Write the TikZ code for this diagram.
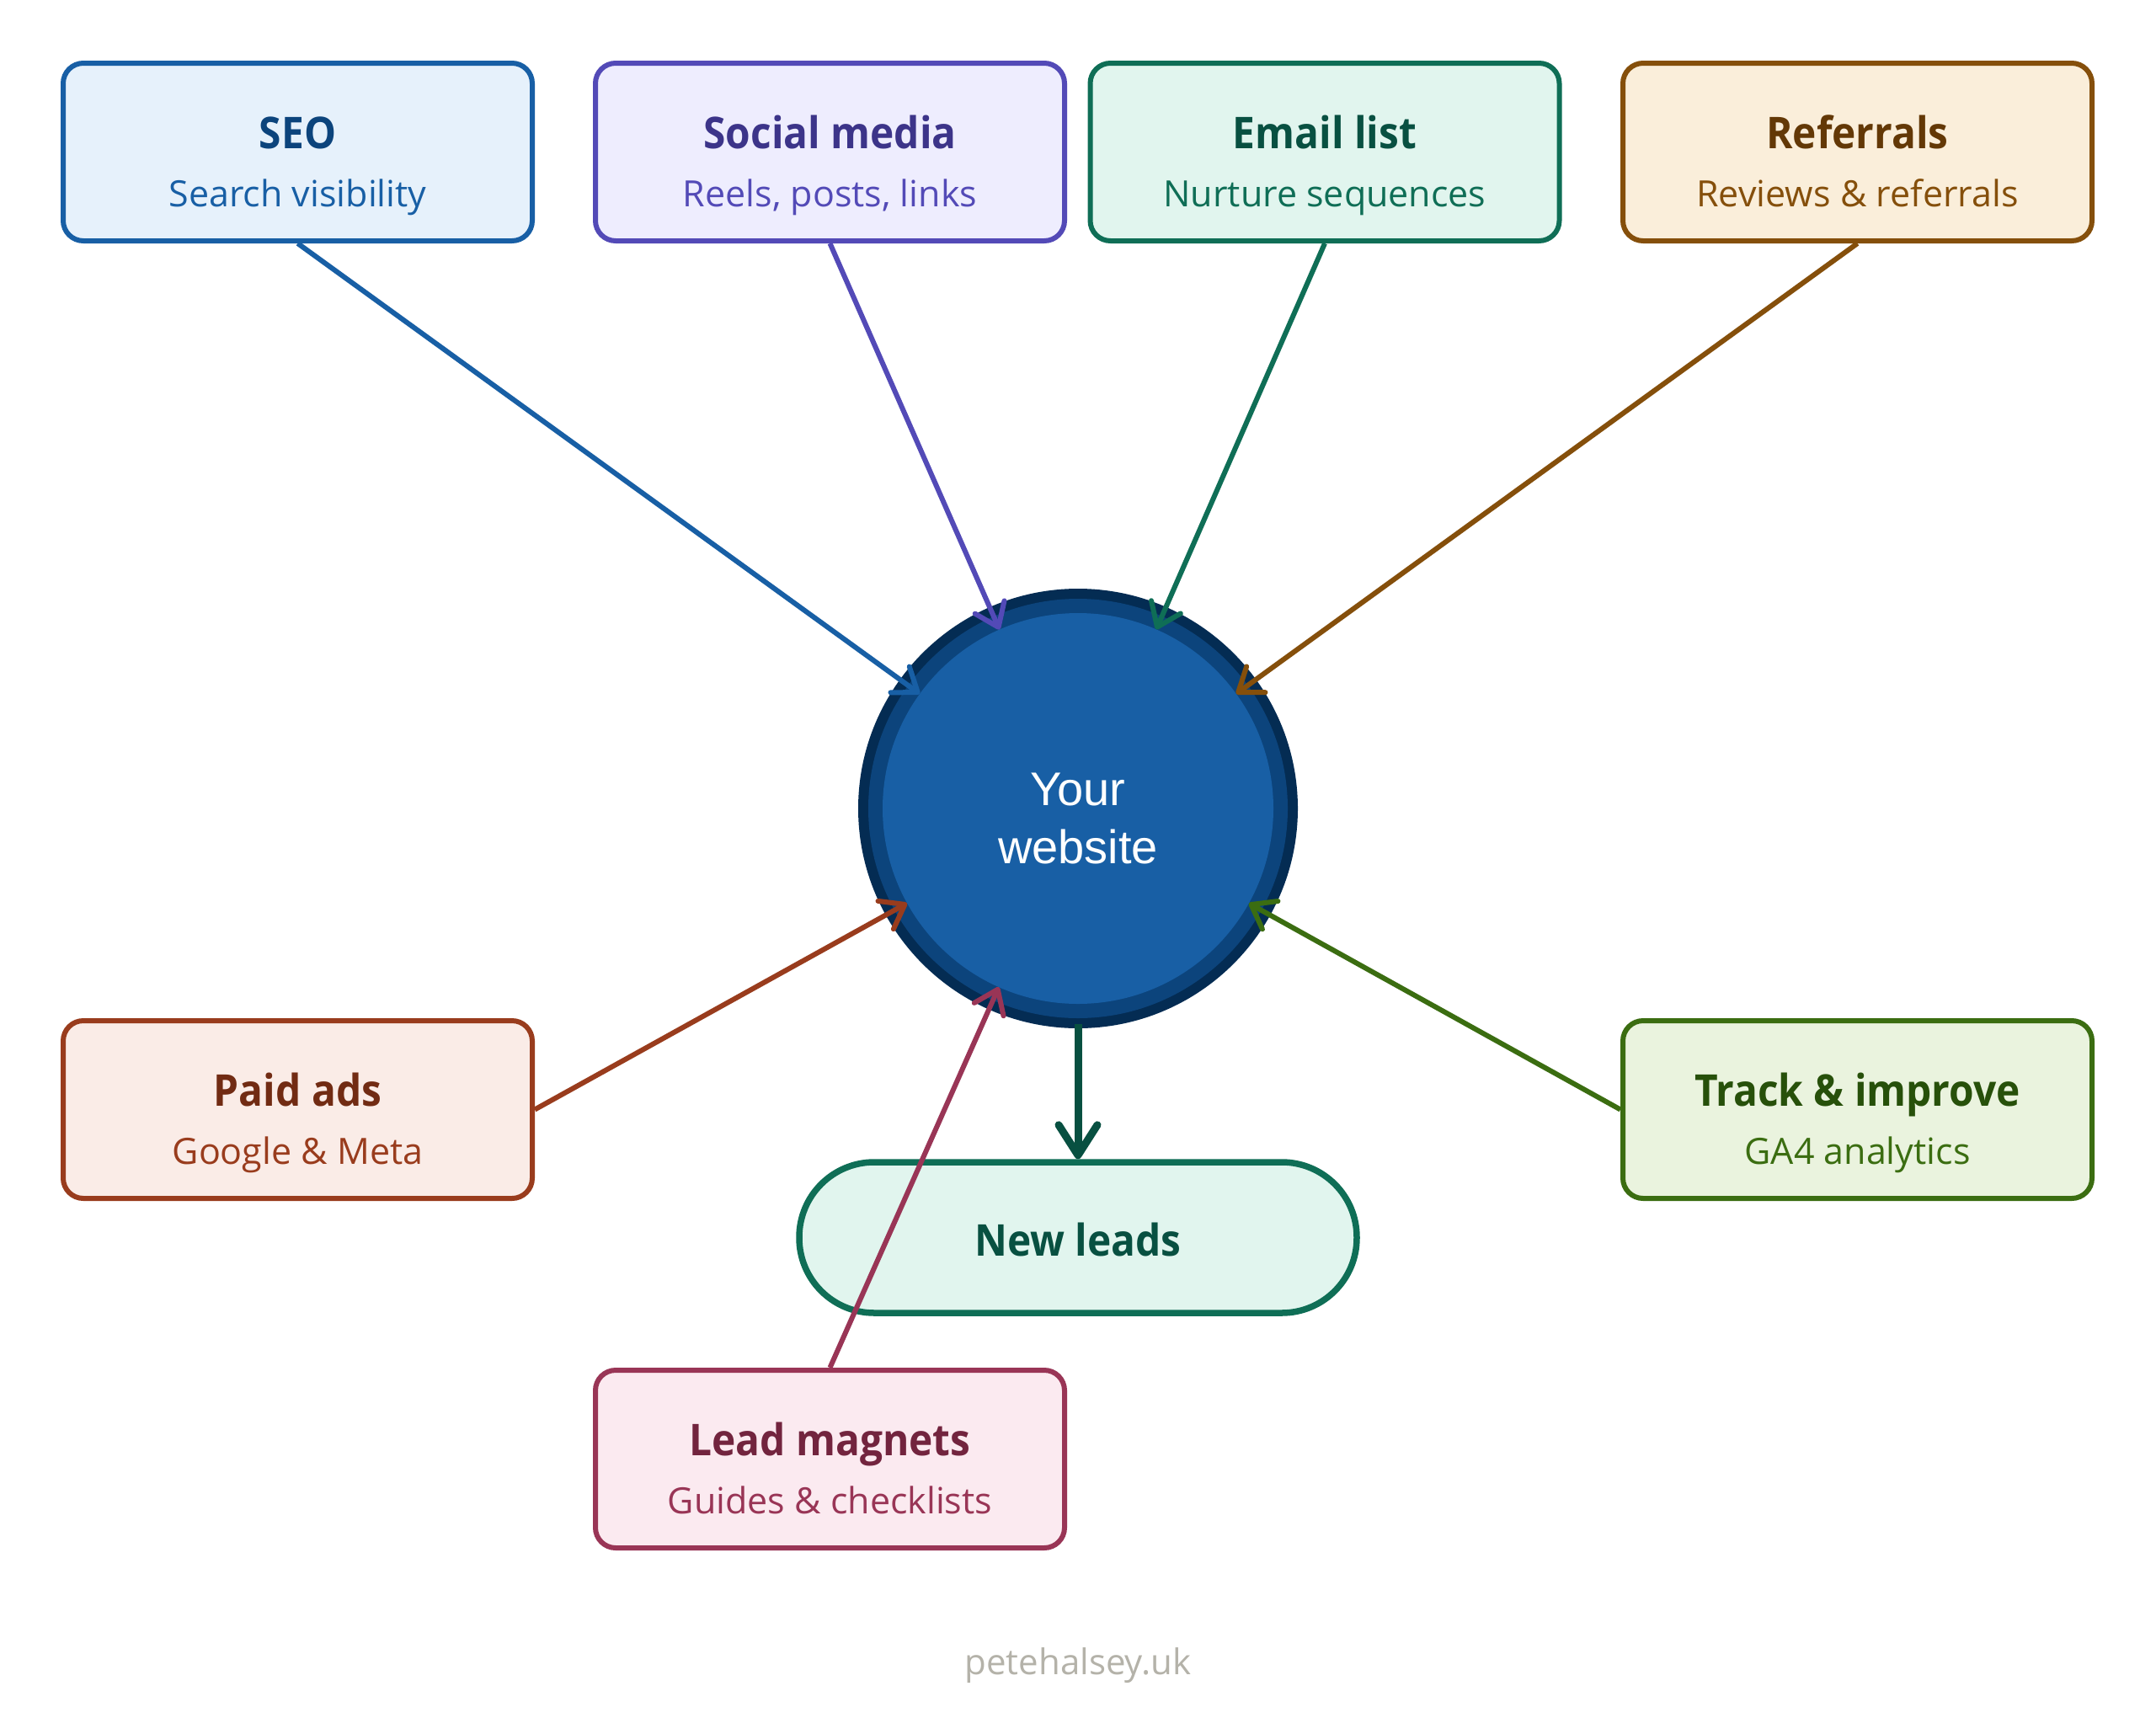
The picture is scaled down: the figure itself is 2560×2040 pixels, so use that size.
\documentclass[tikz,border=0pt]{standalone}
\usepackage{fontspec}
\setmainfont{Open Sans}
\newfontfamily\ttlfam{Open Sans}[FakeStretch=0.92]
\newfontfamily\arialf{Liberation Sans}
\usetikzlibrary{arrows.meta}
\definecolor{blueL}{HTML}{E6F1FB}\definecolor{blueM}{HTML}{185FA5}\definecolor{blueD}{HTML}{0C447C}\definecolor{blueX}{HTML}{042C53}
\definecolor{purL}{HTML}{EEEDFE}\definecolor{purM}{HTML}{534AB7}\definecolor{purD}{HTML}{3C3489}
\definecolor{tealL}{HTML}{E1F5EE}\definecolor{tealM}{HTML}{0F6E56}\definecolor{tealD}{HTML}{085041}
\definecolor{ambL}{HTML}{FAEEDA}\definecolor{ambM}{HTML}{854F0B}\definecolor{ambD}{HTML}{633806}
\definecolor{corL}{HTML}{FAECE7}\definecolor{corM}{HTML}{993C1D}\definecolor{corD}{HTML}{712B13}
\definecolor{grnL}{HTML}{EAF3DE}\definecolor{grnM}{HTML}{3B6D11}\definecolor{grnD}{HTML}{27500A}
\definecolor{pnkL}{HTML}{FBEAF0}\definecolor{pnkM}{HTML}{993556}\definecolor{pnkD}{HTML}{72243E}
\definecolor{foot}{HTML}{B4B2A9}
\newcommand\ttlfont{\ttlfam\fontsize{52}{60}\bfseries\selectfont}
\newcommand\subfont{\fontsize{43}{50}\selectfont}
% name, x, y, colour prefix, title, subtitle
\newcommand\srcbox[6]{%
  \node[srcbox, draw=#4M, fill=#4L] (#1) at (#2,#3) {};
  \node[anchor=base, text=#4D, font=\ttlfont] (#1t) at ([yshift=4.5pt]#1.center) {#5};
  \node[anchor=base, text=#4M, font=\subfont] (#1s) at ([yshift=-64.5pt]#1.center) {#6};
}
\begin{document}
\begin{tikzpicture}[x=1pt,y=-1pt,
  srcbox/.style={rectangle, rounded corners=24pt, line width=6pt, minimum width=557pt, minimum height=211pt, inner sep=0pt},
  arr/.style={line width=6pt, -{Straight Barb[length=26pt,width=38pt,round]}},
  downarr/.style={line width=9pt, draw=tealD, -{Straight Barb[length=36pt,width=46pt,round]}, shorten <=24pt}
]
\fill[white] (0,0) rectangle (2560,2040);
\useasboundingbox (0,0) rectangle (2560,2040);

% new leads
\node[rectangle, rounded corners=89pt, line width=7.5pt, draw=tealM, fill=tealL, minimum width=662pt, minimum height=179pt, inner sep=0pt] (leads) at (1280,1469.5) {};
\node[anchor=base, text=tealD, font=\ttlfont] (leadst) at ([yshift=-21.5pt]leads.center) {New leads};

% website circle
\node[circle, minimum size=464pt, inner sep=0pt, outer sep=0pt, fill=blueM,
  preaction={draw=blueX, line width=58pt},
  preaction={draw=blueD, line width=34pt}] (web) at (1280,960) {};
\node[anchor=base, text=white, font=\arialf\fontsize{56}{60}\selectfont] (webt1) at ([yshift=4pt]web.center) {Your};
\node[anchor=base, text=white, font=\arialf\fontsize{56}{60}\selectfont] (webt2) at ([yshift=-65pt]web.center) {website};

\draw[downarr] (web.south) -- (leads.north);

% source boxes
\srcbox{seo}{353.5}{180.5}{blue}{SEO}{Search visibility}
\srcbox{soc}{985.5}{180.5}{pur}{Social media}{Reels, posts, links}
\srcbox{mail}{1573}{180.5}{teal}{Email list}{Nurture sequences}
\srcbox{ref}{2205.5}{180.5}{amb}{Referrals}{Reviews \& referrals}
\srcbox{paid}{353.5}{1317.5}{cor}{Paid ads}{Google \& Meta}
\srcbox{track}{2205.5}{1317.5}{grn}{Track \& improve}{GA4 analytics}
\srcbox{lead}{985.5}{1732.5}{pnk}{Lead magnets}{Guides \& checklists}

\draw[arr, blueM] (seo.south) -- (web);
\draw[arr, purM] (soc.south) -- (web);
\draw[arr, tealM] (mail.south) -- (web);
\draw[arr, ambM] (ref.south) -- (web);
\draw[arr, corM] (paid.east) -- (web);
\draw[arr, grnM] (track.west) -- (web);
\draw[arr, pnkM] (lead.north) -- (web);

\node[anchor=base, text=foot, font=\fontsize{42}{50}\selectfont] (footer) at (1280,1988) {petehalsey.uk};
\end{tikzpicture}
\end{document}
